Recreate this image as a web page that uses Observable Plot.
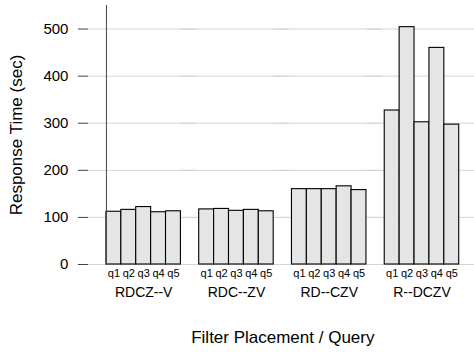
<!DOCTYPE html>
<html>
<head>
<meta charset="utf-8">
<script src="https://cdn.jsdelivr.net/npm/d3@7"></script>
<script src="https://cdn.jsdelivr.net/npm/@observablehq/plot@0.6"></script>
<style>
  html, body { margin: 0; padding: 0; background: #fff; }
</style>
</head>
<body>
<div id="chart"></div>
<script>
const groups = ["RDCZ--V", "RDC--ZV", "RD--CZV", "R--DCZV"];
const queries = ["q1", "q2", "q3", "q4", "q5"];
const valuesRDCZ_V = [112, 116, 122, 111, 113];
const valuesRDC_ZV = [117, 118, 114, 116, 113];
const valuesRD_CZV = [160, 160, 160, 166, 158];
const valuesR_DCZV = [327, 504, 302, 460, 297];
const yTicks = [0, 100, 200, 300, 400, 500];
const yTitle = "Response Time (sec)";
const xTitle = "Filter Placement / Query";

const seriesByGroup = [valuesRDCZ_V, valuesRDC_ZV, valuesRD_CZV, valuesR_DCZV];
const data = [];
groups.forEach((g, i) => queries.forEach((q, j) => data.push({group: g, q, v: seriesByGroup[i][j]})));

const chart = Plot.plot({
  width: 474,
  height: 352,
  marginLeft: 88,
  marginRight: 0,
  marginTop: 5,
  marginBottom: 88,
  style: {fontFamily: "'Liberation Sans', Arial, sans-serif", fontSize: "13px", background: "#fff", color: "#000"},
  fx: {domain: groups, paddingInner: 0.197, paddingOuter: 0.179, align: 0.54, round: false, label: null},
  x: {domain: queries, padding: 0, round: false, label: null},
  y: {domain: [0, 550], label: null},
  marks: [
    Plot.gridY({ticks: yTicks, stroke: "#d4d4d4", strokeOpacity: 1, strokeWidth: 1, insetLeft: -18, insetRight: -16}),
    Plot.barY(data, {fx: "group", x: "q", y: "v", fill: "#e5e5e5", stroke: "#000", strokeWidth: 1.1}),
    Plot.frame({facet: "super", anchor: "left", stroke: "#444"}),
    Plot.axisY({ticks: yTicks, tickSize: 10, tickPadding: 10, fontSize: 15, stroke: "#444", dx: -18, label: null}),
    Plot.axisY({ticks: [], tickSize: 0, fontSize: 17, dx: -18,
      label: yTitle, labelAnchor: "center", labelArrow: "none", labelOffset: 97}),
    Plot.axisX({tickSize: 0, tickPadding: 5, fontSize: 11, label: null}),
    Plot.axisFx({anchor: "bottom", tickSize: 0, tickPadding: 23, fontSize: 14, label: null}),
    Plot.axisFx({anchor: "bottom", ticks: [], tickSize: 0, fontSize: 17,
      label: xTitle, labelAnchor: "center", labelArrow: "none", labelOffset: 78})
  ]
});
document.getElementById("chart").appendChild(chart);
</script>
</body>
</html>
